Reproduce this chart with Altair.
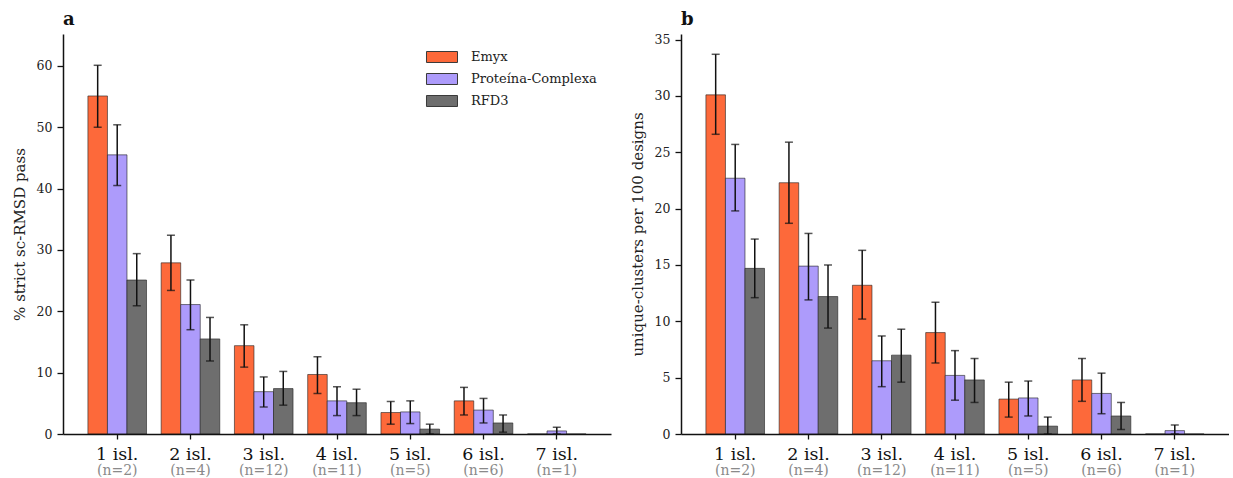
import altair as alt
import pandas as pd

# Island-count categories and the number of targets in each
categories = ["1 isl.", "2 isl.", "3 isl.", "4 isl.", "5 isl.", "6 isl.", "7 isl."]
n_labels = ["(n=2)", "(n=4)", "(n=12)", "(n=11)", "(n=5)", "(n=6)", "(n=1)"]
methods = ["Emyx", "Proteína-Complexa", "RFD3"]
colors = ["#fd693a", "#ad9bfb", "#6e6e6e"]

# Panel a: % strict sc-RMSD pass (mean, lower, upper)
pass_mean = {
    "Emyx": [55.1, 27.9, 14.4, 9.7, 3.5, 5.4, 0.0],
    "Proteína-Complexa": [45.5, 21.1, 6.9, 5.4, 3.6, 3.9, 0.5],
    "RFD3": [25.1, 15.5, 7.4, 5.1, 0.8, 1.8, 0.0],
}
pass_lo = {
    "Emyx": [50.0, 23.4, 10.9, 6.6, 1.6, 3.1, None],
    "Proteína-Complexa": [40.5, 17.0, 4.4, 3.0, 1.7, 1.8, 0.0],
    "RFD3": [20.9, 11.9, 4.7, 3.0, 0.0, 0.3, None],
}
pass_hi = {
    "Emyx": [60.1, 32.4, 17.8, 12.6, 5.3, 7.6, None],
    "Proteína-Complexa": [50.4, 25.1, 9.3, 7.7, 5.4, 5.8, 1.1],
    "RFD3": [29.4, 19.0, 10.2, 7.3, 1.6, 3.1, None],
}

# Panel b: unique clusters per 100 designs (mean, lower, upper)
clu_mean = {
    "Emyx": [30.1, 22.3, 13.2, 9.0, 3.1, 4.8, 0.0],
    "Proteína-Complexa": [22.7, 14.9, 6.5, 5.2, 3.2, 3.6, 0.3],
    "RFD3": [14.7, 12.2, 7.0, 4.8, 0.7, 1.6, 0.0],
}
clu_lo = {
    "Emyx": [26.6, 18.7, 10.2, 6.3, 1.5, 2.9, None],
    "Proteína-Complexa": [19.8, 11.9, 4.2, 3.0, 1.6, 1.8, 0.0],
    "RFD3": [12.1, 9.4, 4.6, 2.8, 0.0, 0.4, None],
}
clu_hi = {
    "Emyx": [33.7, 25.9, 16.3, 11.7, 4.6, 6.7, None],
    "Proteína-Complexa": [25.7, 17.8, 8.7, 7.4, 4.7, 5.4, 0.8],
    "RFD3": [17.3, 15.0, 9.3, 6.7, 1.5, 2.8, None],
}

W, H = 548, 400
FONT = "DejaVu Serif"


def long_table(mean, lo, hi):
    rows = []
    for m in methods:
        for i, c in enumerate(categories):
            rows.append({"cat": c, "method": m, "value": mean[m][i],
                         "lo": lo[m][i], "hi": hi[m][i]})
    return pd.DataFrame(rows)


labels_df = pd.DataFrame({"cat": categories, "n": n_labels})

x_scale = alt.Scale(domain=categories, paddingInner=0.2, paddingOuter=0.34)
x_axis = alt.Axis(title=None, labels=False, ticks=True, tickSize=5, tickWidth=1.3,
                  tickColor="#111", domainColor="#111", domainWidth=1.5, zindex=1)

# wide rectangular legend swatch (path drawn at a small nominal symbol size)
SWATCH = "M-2.067,-0.733H2.067V0.733H-2.067Z"


def panel(mean, lo, hi, letter, ytitle, ymax, yticks, legend):
    df = long_table(mean, lo, hi)
    base = alt.Chart(df)
    y_scale = alt.Scale(domain=[0, ymax], nice=False, zero=True)
    y_axis = alt.Axis(title=ytitle, values=yticks, grid=False, tickSize=6, tickWidth=1.3,
                      tickColor="#111", domainColor="#111", domainWidth=1.5,
                      labelFontSize=12.5, labelColor="#222", labelPadding=5,
                      titleFontSize=15, titleFontWeight="normal", titleColor="#222",
                      titlePadding=9, zindex=1)
    if legend:
        leg = alt.Legend(title=None, orient="none", legendX=371, legendY=15,
                         symbolType=SWATCH, symbolSize=225,
                         symbolStrokeColor="#3a3a3a", symbolStrokeWidth=1,
                         symbolOpacity=1, labelFont=FONT, labelFontSize=13,
                         labelColor="#222", labelOffset=21, rowPadding=6,
                         gridAlign="all", padding=0)
    else:
        leg = None
    color = alt.Color("method:N", scale=alt.Scale(domain=methods, range=colors), legend=leg)
    xo = alt.XOffset("method:N", scale=alt.Scale(domain=methods))

    bars = base.mark_bar(stroke="#222", strokeOpacity=0.6, strokeWidth=1).encode(
        x=alt.X("cat:N", scale=x_scale, axis=x_axis, sort=categories),
        xOffset=xo,
        y=alt.Y("value:Q", scale=y_scale, axis=y_axis),
        color=color,
    )
    err = base.transform_filter("isValid(datum.hi)")
    whisk = err.mark_rule(color="#111", strokeWidth=1.5).encode(
        x=alt.X("cat:N", sort=categories), xOffset=xo,
        y="lo:Q", y2="hi:Q")
    cap_hi = err.mark_tick(color="#111", thickness=1.5, size=8, orient="horizontal").encode(
        x=alt.X("cat:N", sort=categories), xOffset=xo, y="hi:Q")
    cap_lo = err.mark_tick(color="#111", thickness=1.5, size=8, orient="horizontal").encode(
        x=alt.X("cat:N", sort=categories), xOffset=xo, y="lo:Q")

    lab = alt.Chart(labels_df)
    cat_text = lab.mark_text(baseline="alphabetic", fontSize=17.5, font=FONT,
                             color="#111").encode(
        x=alt.X("cat:N", sort=categories), y=alt.value(H + 26), text="cat:N")
    n_text = lab.mark_text(baseline="alphabetic", fontSize=14, font=FONT,
                           color="#8a8a8a").encode(
        x=alt.X("cat:N", sort=categories), y=alt.value(H + 40.5), text="n:N")

    return alt.layer(bars, whisk, cap_hi, cap_lo, cat_text, n_text).properties(
        width=W, height=H,
        title=alt.TitleParams(letter, anchor="start", frame="group", fontSize=18,
                              fontWeight="bold", font=FONT, color="#111", offset=5),
    )


pa = panel(pass_mean, pass_lo, pass_hi, "a", "% strict sc-RMSD pass", 65.2,
           [0, 10, 20, 30, 40, 50, 60], True)
pb = panel(clu_mean, clu_lo, clu_hi, "b", "unique-clusters per 100 designs", 35.5,
           [0, 5, 10, 15, 20, 25, 30, 35], False)

chart = alt.hconcat(pa, pb, spacing=19).resolve_legend(color="independent").configure(
    font=FONT, padding={"left": 12, "top": 10, "right": 0, "bottom": 0}
).configure_view(stroke=None)

chart.save("out.html", embed_options={"renderer": "svg", "actions": False})
